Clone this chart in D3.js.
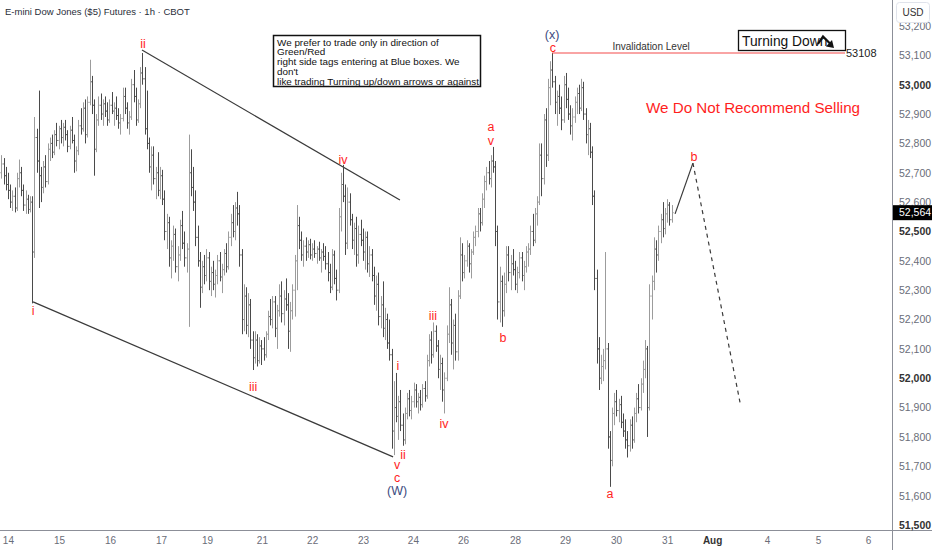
<!DOCTYPE html>
<meta charset="utf-8">
<script src="https://d3js.org/d3.v7.min.js"></script>
<style>
  body { margin: 0; background: #fff; }
  text { font-family: "Liberation Sans", Arial, sans-serif; }
</style>
<div id="chart"></div>
<script>

// hourly bars [open, high, low, close], one array per session
var preBars = [
  [52700,52760,52680,52730],[52730,52750,52660,52690],[52690,52720,52640,52660]];
var jul14 = [
  [52660,52700,52610,52640],[52640,52660,52580,52600],[52600,52640,52570,52620],[52620,52650,52565,52580],
  [52580,52700,52570,52680],[52680,52745,52650,52700],[52700,52720,52620,52640],[52640,52660,52570,52590],
  [52590,52640,52560,52610],[52610,52625,52560,52575],[52575,52620,52565,52600],[52600,52620,52255,52430],
  [52430,52890,52410,52820],[52820,52850,52700,52740],[52740,52980,52580,52690],[52690,52720,52600,52650],
  [52650,52740,52630,52720],[52720,52760,52650,52670],[52670,52800,52660,52780],[52780,52820,52740,52800],
  [52800,52830,52750,52770],[52770,52845,52760,52830],[52830,52870,52790,52810]];
var jul15 = [
  [52810,52860,52780,52850],[52850,52880,52800,52820],[52820,52870,52790,52855],[52855,52880,52810,52830],
  [52830,52845,52770,52790],[52790,52860,52780,52845],[52845,52890,52800,52810],[52810,52830,52700,52740],
  [52740,52790,52705,52775],[52775,52880,52760,52860],[52860,52920,52830,52850],[52850,52940,52840,52920],
  [52920,52950,52800,52830],[52830,52960,52820,52940],[52940,53085,52930,53010],[53010,53030,52900,52930],
  [52930,52950,52690,52780],[52780,52900,52770,52880],[52880,52960,52860,52930],[52930,52970,52880,52900],
  [52900,52950,52860,52935],[52935,52960,52890,52910],[52910,52940,52860,52880]];
var jul16 = [
  [52880,52950,52870,52930],[52930,52975,52900,52910],[52910,52940,52860,52920],[52920,52960,52880,52895],
  [52895,52920,52850,52870],[52870,52900,52830,52885],[52885,52990,52875,52960],[52960,52990,52900,52920],
  [52920,52940,52850,52870],[52870,52910,52830,52890],[52890,53020,52880,53000],[53000,53050,52940,52960],
  [52960,52990,52860,52880],[52880,52950,52870,52935],[52935,53060,52920,53040],[53040,53108,53000,53020],
  [53020,53060,52830,52850],[52850,52980,52780,52800],[52800,52820,52700,52720],[52720,52790,52640,52760],
  [52760,52790,52660,52680],[52680,52720,52610,52700],[52700,52770,52620,52640]];
var jul17 = [
  [52640,52720,52610,52690],[52690,52710,52590,52610],[52610,52640,52470,52500],[52500,52560,52440,52530],
  [52530,52550,52380,52410],[52410,52470,52340,52450],[52450,52520,52400,52490],[52490,52510,52360,52380],
  [52380,52450,52330,52420],[52420,52540,52400,52520],[52520,52570,52440,52460],[52460,52500,52380,52410],
  [52410,52460,52360,52440],[52440,52830,52175,52700],[52700,52780,52620,52650],[52650,52720,52570,52600],
  [52600,52640,52450,52480],[52480,52520,52380,52400],[52400,52430,52240,52310],[52310,52400,52290,52380],
  [52380,52420,52320,52350],[52350,52440,52330,52410],[52410,52430,52300,52330]];
var jul18 = [
  [52330,52380,52280,52360],[52360,52400,52300,52320],[52320,52370,52275,52350],[52350,52420,52320,52400],
  [52400,52430,52330,52345],[52345,52390,52290,52370],[52370,52440,52350,52425],[52425,52460,52360,52380],
  [52380,52500,52370,52480],[52480,52560,52450,52530],[52530,52590,52480,52500],[52500,52600,52470,52580],
  [52580,52635,52520,52560],[52560,52590,52380,52420],[52420,52440,52150,52200],[52200,52320,52160,52280],
  [52280,52310,52150,52180],[52180,52290,52140,52250],[52250,52270,52100,52130],[52130,52160,52028,52070],
  [52070,52160,52050,52130],[52130,52150,52040,52060],[52060,52140,52050,52110]];
var jul21 = [
  [52110,52130,52045,52100],[52100,52140,52060,52080],[52080,52160,52070,52150],[52150,52230,52130,52210],
  [52210,52270,52180,52200],[52200,52280,52170,52260],[52260,52280,52140,52170],[52170,52250,52100,52230],
  [52230,52320,52210,52280],[52280,52330,52190,52220],[52220,52300,52180,52270],[52270,52340,52230,52250],
  [52250,52290,52100,52160],[52160,52260,52090,52230],[52230,52320,52200,52300],[52300,52420,52210,52400],
  [52400,52590,52300,52520],[52520,52550,52440,52470],[52470,52500,52400,52420],[52420,52470,52380,52450],
  [52450,52480,52400,52430],[52430,52470,52410,52455],[52455,52475,52405,52420]];
var jul22 = [
  [52420,52460,52400,52440],[52440,52470,52410,52425],[52425,52450,52390,52440],[52440,52465,52400,52410],
  [52410,52440,52360,52430],[52430,52460,52400,52415],[52415,52450,52370,52390],[52390,52430,52330,52360],
  [52360,52390,52290,52310],[52310,52440,52300,52420],[52420,52435,52320,52340],[52340,52370,52265,52300],
  [52300,52580,52290,52550],[52550,52700,52500,52660],[52660,52727,52600,52620],[52620,52660,52420,52460],
  [52460,52650,52440,52600],[52600,52630,52520,52540],[52540,52560,52440,52470],[52470,52530,52420,52510],
  [52510,52550,52380,52420],[52420,52520,52390,52490],[52490,52540,52450,52470]];
var jul23 = [
  [52470,52510,52400,52430],[52430,52500,52370,52480],[52480,52500,52360,52390],[52390,52450,52345,52420],
  [52420,52440,52330,52350],[52350,52380,52250,52280],[52280,52350,52230,52320],[52320,52360,52180,52210],
  [52210,52280,52170,52250],[52250,52330,52140,52170],[52170,52240,52130,52200],[52200,52220,52100,52120],
  [52120,52200,52060,52080],[52080,52100,51760,51820],[51820,51990,51738,51900],[51900,52018,51850,51870],
  [51870,51940,51790,51920],[51920,51960,51820,51840],[51840,51880,51770,51790],[51790,51900,51775,51880],
  [51880,51950,51860,51930],[51930,51960,51870,51890],[51890,51940,51860,51920]];
var jul24 = [
  [51920,51985,51900,51960],[51960,51980,51900,51920],[51920,51950,51880,51935],[51935,51960,51890,51910],
  [51910,51980,51900,51965],[51965,51990,51920,51940],[51940,52080,51930,52060],[52060,52150,52040,52130],
  [52130,52160,52050,52080],[52080,52190,52070,52160],[52160,52180,52090,52110],[52110,52130,52000,52030],
  [52030,52080,51960,52050],[52050,52070,51920,51960],[51960,52020,51880,52000],[52000,52180,51990,52150],
  [52150,52310,52120,52250],[52250,52270,52080,52120],[52120,52200,52030,52180],[52180,52220,52060,52090],
  [52090,52300,52060,52280],[52280,52480,52270,52420],[52420,52460,52330,52360]];
var jul25 = [
  [52360,52420,52340,52400],[52400,52470,52380,52450],[52450,52460,52360,52390],[52390,52440,52340,52430],
  [52430,52500,52420,52480],[52480,52520,52450,52500],[52500,52580,52480,52560],[52560,52580,52500,52530],
  [52530,52630,52520,52610],[52610,52690,52580,52670],[52670,52720,52640,52700],[52700,52740,52660,52680],
  [52680,52760,52650,52740],[52740,52788,52700,52720],[52720,52740,52450,52500],[52500,52520,52200,52260],
  [52260,52380,52190,52330],[52330,52350,52175,52230],[52230,52360,52210,52320],[52320,52450,52290,52420],
  [52420,52450,52330,52360],[52360,52420,52300,52390],[52390,52440,52350,52370]];
var jul28 = [
  [52370,52400,52300,52320],[52320,52380,52290,52360],[52360,52430,52340,52410],[52410,52430,52330,52350],
  [52350,52400,52300,52380],[52380,52450,52360,52430],[52430,52460,52380,52440],[52440,52520,52420,52500],
  [52500,52560,52450,52470],[52470,52580,52460,52560],[52560,52620,52520,52600],[52600,52800,52590,52760],
  [52760,52800,52620,52680],[52680,52900,52660,52880],[52880,52920,52720,52760],[52760,53020,52740,52990],
  [52990,53080,52930,53050],[53050,53108,52990,53010],[53010,53030,52900,52940],[52940,52980,52860,52960],
  [52960,53000,52900,52920],[52920,52960,52845,52880],[52880,53030,52870,53000]];
var jul29 = [
  [53000,53040,52920,52950],[52950,52990,52880,52900],[52900,52930,52830,52860],[52860,52920,52810,52890],
  [52890,52960,52870,52940],[52940,52990,52900,52970],[52970,53000,52900,52920],[52920,53020,52910,52990],
  [52990,53010,52880,52900],[52900,52920,52800,52830],[52830,52880,52760,52850],[52850,52870,52750,52770],
  [52770,52790,52590,52620],[52620,52640,52300,52340],[52340,52370,52050,52100],[52100,52140,51960,52000],
  [52000,52080,51980,52040],[52040,52100,51990,52060],[52060,52430,52030,52100],[52100,52120,51760,51800],
  [51800,51820,51630,51720],[51720,51900,51700,51880],[51880,51950,51840,51920]];
var jul30 = [
  [51920,51960,51870,51890],[51890,51930,51850,51910],[51910,51940,51830,51850],[51850,51880,51800,51820],
  [51820,51860,51760,51790],[51790,51820,51730,51770],[51770,51860,51750,51840],[51840,51870,51760,51790],
  [51790,51900,51780,51880],[51880,51950,51850,51930],[51930,51980,51880,51900],[51900,52000,51890,51980],
  [51980,52060,51950,52030],[52030,52130,52000,52100],[52100,52110,51800,51900],[51900,52320,51890,52280],
  [52280,52350,52200,52330],[52330,52480,52300,52440],[52440,52470,52360,52420],[52420,52520,52400,52500],
  [52500,52560,52460,52540],[52540,52600,52480,52510],[52510,52580,52490,52560]];
var jul31 = [
  [52560,52610,52530,52590],[52590,52600,52520,52540],[52540,52590,52530,52564]];

// time axis labels and their bar positions
var dayLabels = ["14","15","16","17","19","21","22","23","24","26","28","29","30","31","Aug","4","5","6"];
var dayIndex  = [3, 26.2, 49.3, 72.4, 93.3, 118.2, 141, 164.1, 186.7, 209.4, 233, 255.7, 278.8, 302, 322.4, 347.3, 370.4, 393.1];

// price axis
var priceTicks = [51500,51600,51700,51800,51900,52000,52100,52200,52300,52400,52500,52600,52700,52800,52900,53000,53100,53200];
var lastPrice = 52564;
var invalidation = 53108;

// wave labels: text, bar index, price, colour group
var waveText  = ["i","ii","iii","iv","v","c","(W)","i","ii","iii","iv","a","v","b","(x)","c","a","b"];
var waveIndex = [14.4, 64.3, 114.2, 155, 179.5, 179.5, 179.5, 179.9, 182.2, 195.8, 200.8, 222.1, 222.1, 227.6, 249.8, 250.2, 276.1, 314.2];
var wavePrice = [52229, 53139, 51970, 52744, 51705, 51663, 51616, 52042, 51739, 52215, 51844, 52856, 52808, 52137, 53170, 53127, 51606, 52754];
var waveDegree = ["m","m","m","m","m","m","M","m","m","m","m","m","m","m","M","m","m","m"];

// channel lines and projection: [index, price]
var upperLine = [[63.8, 53118], [180.8, 52607]];
var lowerLine = [[14.4, 52260], [177.7, 51732]];
var projSolid = [[305.6, 52560], [313.7, 52733]];
var projDash  = [[313.7, 52733], [335.1, 51916]];

var noteLines = ["We prefer to trade only in direction of", "Green/Red",
  "right side tags entering at Blue boxes. We", "don't",
  "like trading Turning up/down arrows or against"];

var sessions = [preBars, jul14, jul15, jul16, jul17, jul18, jul21, jul22, jul23, jul24, jul25, jul28, jul29, jul30, jul31];
var bars = [];
sessions.forEach(function(s) { s.forEach(function(b) { bars.push({i: bars.length, o: b[0], h: b[1], l: b[2], c: b[3]}); }); });

var W = 932, H = 550, plotR = 892, axisY = 530;

var svg = d3.select("#chart").append("svg")
  .attr("width", W).attr("height", H)
  .style("background", "#fff");

var x = d3.scaleLinear().domain([-0.6, 404]).range([0, plotR]);
var y = d3.scaleLinear().domain([51500, 53200]).range([525, 26]);

var plot = svg.append("g");

// channel lines
var line = d3.line().x(function(d) { return x(d[0]); }).y(function(d) { return y(d[1]); });
[upperLine, lowerLine].forEach(function(l) {
  plot.append("path").attr("d", line(l)).attr("fill", "none")
    .attr("stroke", "#3a3a3a").attr("stroke-width", 1.2);
});

// bars
plot.append("g").selectAll("path")
  .data(bars)
  .join("path")
    .attr("d", function(d) {
      var cx = Math.round(x(d.i)) + 0.5;
      return "M" + cx + "," + y(d.h) + "V" + y(d.l) +
             "M" + (cx - 1.2) + "," + y(d.o) + "H" + cx +
             "M" + cx + "," + y(d.c) + "H" + (cx + 1.2);
    })
    .attr("fill", "none")
    .attr("stroke", function(d) { return d.c >= d.o ? "#9c9c9c" : "#4a4a4a"; })
    .attr("stroke-width", 1);

// projection
plot.append("path").attr("d", line(projSolid)).attr("fill", "none")
  .attr("stroke", "#3a3a3a").attr("stroke-width", 1.2);
plot.append("path").attr("d", line(projDash)).attr("fill", "none")
  .attr("stroke", "#3a3a3a").attr("stroke-width", 1.2).attr("stroke-dasharray", "4,4");

// invalidation level
plot.append("line")
  .attr("x1", x(249.8)).attr("x2", 845)
  .attr("y1", y(invalidation)).attr("y2", y(invalidation))
  .attr("stroke", "#f44a4a").attr("stroke-width", 1.2);
plot.append("text").attr("x", x(294.7)).attr("y", y(invalidation) - 3)
  .attr("text-anchor", "middle").attr("font-size", 10).attr("fill", "#333")
  .text("Invalidation Level");
plot.append("text").attr("x", 846).attr("y", y(invalidation) + 4)
  .attr("font-size", 11).attr("fill", "#222")
  .text(invalidation);

// wave labels
plot.append("g").selectAll("text")
  .data(waveText)
  .join("text")
    .attr("x", function(d, k) { return x(waveIndex[k]); })
    .attr("y", function(d, k) { return y(wavePrice[k]); })
    .attr("dy", "0.35em")
    .attr("text-anchor", "middle")
    .attr("font-size", 12.5)
    .attr("fill", function(d, k) { return waveDegree[k] === "M" ? "#3b4a7e" : "#ff1e1e"; })
    .text(function(d) { return d; });

// note box
var note = svg.append("g");
note.append("clipPath").attr("id", "noteClip")
  .append("rect").attr("x", 274).attr("y", 36).attr("width", 206).attr("height", 50);
note.append("rect").attr("x", 273.5).attr("y", 35.5).attr("width", 207).attr("height", 51)
  .attr("fill", "#fff").attr("stroke", "#111").attr("stroke-width", 1.5);
note.append("g").attr("clip-path", "url(#noteClip)")
  .selectAll("text").data(noteLines).join("text")
  .attr("x", 277).attr("y", function(d, k) { return 45.5 + k * 9.8; })
  .attr("font-size", 9.9).attr("fill", "#111")
  .text(function(d) { return d; });

// turning down box
var td = svg.append("g");
td.append("rect").attr("x", 738.5).attr("y", 30.5).attr("width", 107).attr("height", 20)
  .attr("fill", "#fff").attr("stroke", "#111").attr("stroke-width", 1.3);
td.append("text").attr("x", 742).attr("y", 46).attr("font-size", 13.8).attr("fill", "#111")
  .text("Turning Down");
td.append("path").attr("d", "M818,44 L823,36.5 L830,43.5").attr("fill", "none")
  .attr("stroke", "#111").attr("stroke-width", 2.2);
td.append("path").attr("d", "M834,48 L826,46.5 L832,40 Z").attr("fill", "#111");

svg.append("text").attr("x", 753).attr("y", 113).attr("text-anchor", "middle")
  .attr("font-size", 15.2).attr("fill", "#ff1e1e")
  .text("We Do Not Recommend Selling");

// title
svg.append("text").attr("x", 5).attr("y", 15).attr("font-size", 9.5).attr("fill", "#2a2e39")
  .text("E-mini Dow Jones ($5) Futures \u00b7 1h \u00b7 CBOT");

// axes frame
svg.append("line").attr("x1", 0).attr("x2", W).attr("y1", axisY + 0.5).attr("y2", axisY + 0.5)
  .attr("stroke", "#8c8f98");
svg.append("line").attr("x1", plotR + 0.5).attr("x2", plotR + 0.5).attr("y1", 0).attr("y2", H)
  .attr("stroke", "#8c8f98");

// time axis
var xAxis = svg.append("g").attr("transform", "translate(0," + axisY + ")")
  .call(d3.axisBottom(x).tickValues(dayIndex)
    .tickFormat(function(d, k) { return dayLabels[k]; })
    .tickSize(0).tickPadding(7));
xAxis.select(".domain").remove();
xAxis.selectAll("text")
  .attr("font-family", "'Liberation Sans', Arial, sans-serif")
  .attr("font-size", 10)
  .attr("font-weight", function(d, k) { return dayLabels[k] === "Aug" ? "bold" : null; })
  .attr("fill", function(d, k) { return dayLabels[k] === "Aug" ? "#333" : "#6a6d78"; });

// price axis
var yAxis = svg.append("g").attr("transform", "translate(" + plotR + ",0)")
  .call(d3.axisRight(y).tickValues(priceTicks).tickFormat(d3.format(",")).tickSize(0).tickPadding(7));
yAxis.select(".domain").remove();
yAxis.selectAll("text")
  .attr("font-family", "'Liberation Sans', Arial, sans-serif")
  .attr("font-size", 10.5)
  .attr("font-weight", function(d) { return d % 500 === 0 ? "bold" : null; })
  .attr("fill", function(d) { return d % 500 === 0 ? "#333" : "#6a6d78"; });

// USD box
svg.append("rect").attr("x", 896.5).attr("y", 2.5).attr("width", 33).attr("height", 20).attr("rx", 3)
  .attr("fill", "#fff").attr("stroke", "#e0e3eb");
svg.append("text").attr("x", 913).attr("y", 16).attr("text-anchor", "middle")
  .attr("font-size", 10).attr("fill", "#333").text("USD");

// last price tag
svg.append("rect").attr("x", plotR + 1).attr("y", y(lastPrice) - 7.5).attr("width", W - plotR - 1).attr("height", 15)
  .attr("fill", "#000");
svg.append("text").attr("x", 899).attr("y", y(lastPrice)).attr("dy", "0.35em")
  .attr("font-size", 10.5).attr("fill", "#fff").text(d3.format(",")(lastPrice));

</script>
